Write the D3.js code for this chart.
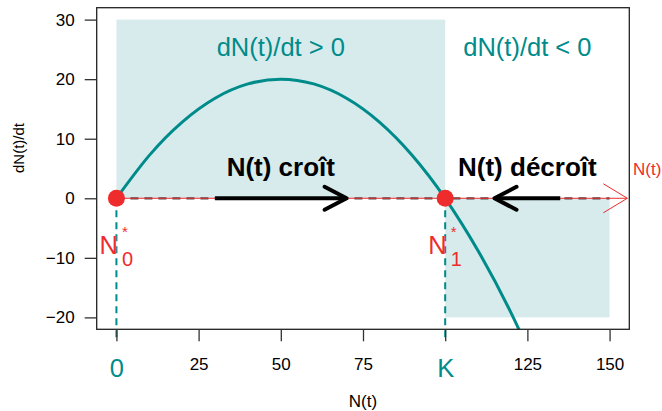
<!DOCTYPE html>
<html><head><meta charset="utf-8">
<script src="https://cdn.jsdelivr.net/npm/d3@7"></script>
<style>body{margin:0;background:#fff}svg{display:block;font-family:"Liberation Sans",Arial,Helvetica,sans-serif}</style>
</head><body><svg id="c" width="662" height="411"></svg>
<script>
// ---- data ----
const curveN = [0,10,20,30,40,50,60,70,80,90,100,110,120,130];
const curveDN = [0,7.2,12.8,16.8,19.2,20,19.2,16.8,12.8,7.2,0,-8.8,-19.2,-31.2];
const xTicks = [0,25,50,75,100,125,150];
const xTickLabels = ["0","25","50","75","K","125","150"];
const yTicks = [-20,-10,0,10,20,30];
const equilibria = [0,100];
const eqLabels = ["0","1"];
const growRect = [0,100,0,30];     // x0,x1,y0,y1
const declineRect = [100,150,-20,0];
const growArrow = [30,70];
const declineArrow = [135,115];
const regionText = [{x:50,label:"dN(t)/dt > 0"},{x:125,label:"dN(t)/dt < 0"}];
const arrowText = [{x:50,label:"N(t) croît"},{x:125,label:"N(t) décroît"}];

const TEAL="#008B8B", RED="#EE2C2C", SHADE="#d7ebed";
const svg=d3.select("#c");
const L=96.7,R=629.3,T=7.7,B=329.3;
const x=d3.scaleLinear().domain([-6,156]).range([L,R]);
const y=d3.scaleLinear().domain([-22,32]).range([B,T]);

svg.append("defs").append("clipPath").attr("id","clip").append("rect")
  .attr("x",L).attr("y",T).attr("width",R-L).attr("height",B-T);

// shaded regions
[growRect,declineRect].forEach(r=>{
  svg.append("rect").attr("x",x(r[0])).attr("y",y(r[3]))
    .attr("width",x(r[1])-x(r[0])).attr("height",y(r[2])-y(r[3])).attr("fill",SHADE);
});

// region texts
svg.selectAll(".rt").data(regionText).join("text")
  .attr("x",d=>x(d.x)).attr("y",56).attr("text-anchor","middle")
  .attr("font-size",25.5).attr("fill",TEAL).text(d=>d.label);

// vertical dashed lines
equilibria.forEach(e=>{
  svg.append("line").attr("x1",x(e)).attr("x2",x(e)).attr("y1",y(0)).attr("y2",y(-24))
    .attr("stroke",TEAL).attr("stroke-width",2).attr("stroke-dasharray","7,5");
});

// curve
svg.append("path").datum(curveN.map((n,i)=>[n,curveDN[i]]))
  .attr("clip-path","url(#clip)")
  .attr("d",d3.line().x(d=>x(d[0])).y(d=>y(d[1])).curve(d3.curveNatural))
  .attr("fill","none").attr("stroke",TEAL).attr("stroke-width",3);

// dashed zero line + red axis arrow
svg.append("line").attr("x1",x(0)).attr("x2",x(150)).attr("y1",y(0)).attr("y2",y(0))
  .attr("stroke","#4a4a4a").attr("stroke-width",2.2).attr("stroke-dasharray","8,6");
const tipX=x(155.4), y0=y(0);
svg.append("line").attr("x1",x(0)).attr("x2",tipX).attr("y1",y0).attr("y2",y0)
  .attr("stroke",RED).attr("stroke-width",1);
svg.append("path").attr("d",`M${tipX-24},${y0-14.5}L${tipX},${y0}L${tipX-24},${y0+14.5}`)
  .attr("fill","none").attr("stroke",RED).attr("stroke-width",1);
svg.append("text").attr("x",633).attr("y",175).attr("font-size",17).attr("fill",RED).text("N(t)");

// black arrows
[growArrow,declineArrow].forEach(a=>{
  const x1=x(a[0]), x2=x(a[1]), dir=Math.sign(x2-x1);
  svg.append("line").attr("x1",x1).attr("x2",x2).attr("y1",y0).attr("y2",y0)
    .attr("stroke","#000").attr("stroke-width",4);
  svg.append("path").attr("d",`M${x2-dir*22},${y0-11.5}L${x2},${y0}L${x2-dir*22},${y0+11.5}`)
    .attr("fill","none").attr("stroke","#000").attr("stroke-width",4).attr("stroke-linecap","round").attr("stroke-linejoin","round");
});
svg.selectAll(".at").data(arrowText).join("text")
  .attr("x",d=>x(d.x)).attr("y",176).attr("text-anchor","middle")
  .attr("font-size",26).attr("font-weight","bold").attr("fill","#000").text(d=>d.label);

// equilibrium points and labels
svg.selectAll(".pt").data(equilibria).join("circle")
  .attr("cx",d=>x(d)).attr("cy",y0).attr("r",8.5).attr("fill",RED);
equilibria.forEach((e,i)=>{
  const cx=x(e);
  svg.append("text").attr("x",cx-17).attr("y",253.5).attr("font-size",25.5).attr("fill",RED).text("N");
  svg.append("text").attr("x",cx+5.5).attr("y",266).attr("font-size",20).attr("fill",RED).text(eqLabels[i]);
  svg.append("text").attr("x",cx+5.5).attr("y",237).attr("font-size",15).attr("fill",RED).text("*");
});

// box
svg.append("rect").attr("x",L).attr("y",T).attr("width",R-L).attr("height",B-T)
  .attr("fill","none").attr("stroke","#222").attr("stroke-width",1.3);

// y axis
const ya=svg.append("g").attr("transform",`translate(${L},0)`)
  .call(d3.axisLeft(y).tickValues(yTicks).tickSize(12).tickPadding(10).tickFormat(d=>d<0?"\u2212"+Math.abs(d):d));
ya.select(".domain").remove();
ya.selectAll("line").attr("stroke","#333").attr("stroke-width",1.3);
ya.selectAll("text").attr("font-size",17).attr("fill","#000").attr("font-family",null);

// x axis
const xa=svg.append("g").attr("transform",`translate(0,${B})`)
  .call(d3.axisBottom(x).tickValues(xTicks).tickSize(12).tickFormat((d,i)=>xTickLabels[i]));
xa.select(".domain").remove();
xa.selectAll("line").attr("stroke","#333").attr("stroke-width",1.3);
xa.selectAll("text").attr("font-family",null).attr("dy",null)
  .attr("y",d=>(d===0||d===100)?48:41)
  .attr("font-size",d=>(d===0||d===100)?25.5:17)
  .attr("fill",d=>(d===0||d===100)?TEAL:"#000");

// axis titles
svg.append("text").attr("x",(L+R)/2).attr("y",407).attr("text-anchor","middle").attr("font-size",17).text("N(t)");
svg.append("text").attr("transform","translate(24,148) rotate(-90)").attr("text-anchor","middle")
  .attr("font-size",15).text("dN(t)/dt");
</script></body></html>
